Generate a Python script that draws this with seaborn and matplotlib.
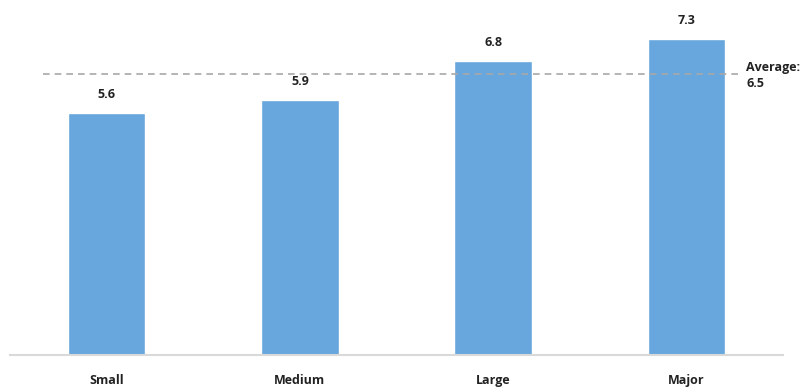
import matplotlib
matplotlib.use("Agg")
import pandas as pd
import matplotlib.pyplot as plt
import seaborn as sns

# datos
categorias = ["Small", "Medium", "Large", "Major"]
valores = [5.6, 5.9, 6.8, 7.3]
promedio = 6.5

df = pd.DataFrame({"categoria": categorias, "valor": valores})

sns.set_style("white")
plt.rcParams["font.family"] = ["Open Sans", "DejaVu Sans"]

fig = plt.figure(figsize=(8.12, 3.87), dpi=100)
ax = fig.add_axes([10 / 812, 32 / 387, 773 / 812, 355 / 387])

sns.barplot(data=df, x="categoria", y="valor", color="#67A7DD", width=0.4,
            saturation=1, ax=ax)

ax.set_xlim(-0.5, 3.5)
ax.set_ylim(0, 8.2)

# etiquetas de valor
for i, v in enumerate(valores):
    ax.annotate(f"{v}", (i, v), xytext=(0, 13), textcoords="offset points",
                ha="center", va="center", fontsize=9, fontweight="bold",
                color="#222222")

# linea promedio
ax.axhline(promedio, xmin=0.043, xmax=0.944, color="#a8a8a8", lw=1.2,
           dashes=(4, 3))
ax.text(3.31, promedio - 0.05, f"Average:\n{promedio}", ha="left", va="center",
        fontsize=9, fontweight="bold", color="#222222", linespacing=1.3)

# ejes
sns.despine(ax=ax, left=True)
ax.spines["bottom"].set_color("#d9d9d9")
ax.spines["bottom"].set_linewidth(1.5)
ax.set_yticks([])
ax.set_xlabel("")
ax.set_ylabel("")
ax.tick_params(axis="x", length=0, pad=14, labelsize=9, labelcolor="#222222")
for t in ax.get_xticklabels():
    t.set_fontweight("bold")

fig.savefig("out.png", dpi=100)
